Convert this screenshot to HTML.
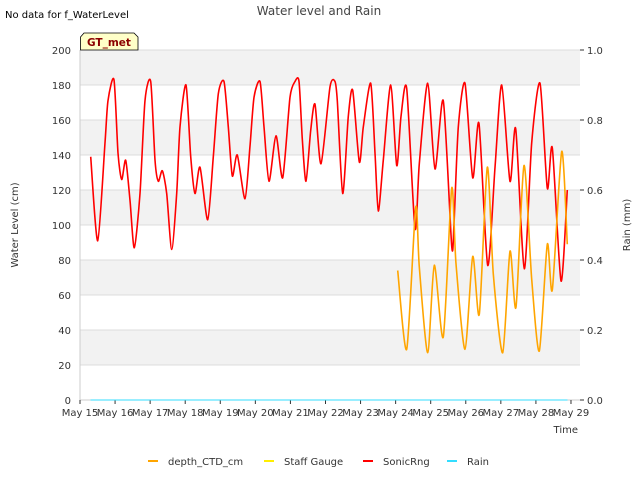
<!DOCTYPE html>
<html><head><meta charset="utf-8"><style>
body{margin:0;background:#fff;font-family:"Liberation Sans","DejaVu Sans",sans-serif;}
svg text{font-family:"DejaVu Sans","Liberation Sans",sans-serif;}
</style></head><body>
<svg id="chart" width="640" height="480" viewBox="0 0 640 480">
<text x="5" y="18" font-size="10" fill="#000">No data for f_WaterLevel</text>
<text x="319" y="15" font-size="12" fill="#444" text-anchor="middle">Water level and Rain</text>
<g id="plot"></g>
<g>
<path d="M80.5,50 L80.5,37 L84,33 L134,33 L138,37 L138,50 Z" fill="#ffffc8" stroke="#000" stroke-width="0.8"/>
<text x="87" y="46" font-size="10.5" font-weight="bold" fill="#8b0000">GT_met</text>
</g>
<text transform="translate(18,225) rotate(-90)" font-size="10" text-anchor="middle" fill="#333">Water Level (cm)</text>
<text transform="translate(630,225) rotate(-90)" font-size="10" text-anchor="middle" fill="#333">Rain (mm)</text>
<text x="578" y="433" font-size="10" text-anchor="end" fill="#333">Time</text>
<g id="legend"></g>
</svg>
<script>
const redDays=[0.305,0.505,0.713,0.798,0.969,1.084,1.189,1.303,1.426,1.548,1.711,1.853,2.016,2.139,2.233,2.347,2.472,2.615,2.757,2.851,3.023,3.157,3.279,3.422,3.641,3.801,3.944,4.106,4.229,4.343,4.485,4.705,4.847,4.962,5.133,5.247,5.389,5.589,5.780,5.988,6.131,6.245,6.339,6.444,6.578,6.701,6.872,7.129,7.271,7.337,7.491,7.650,7.776,7.964,8.078,8.289,8.412,8.506,8.648,8.860,9.031,9.153,9.316,9.552,9.675,9.914,10.123,10.359,10.599,10.665,10.787,10.978,11.198,11.377,11.625,11.834,12.025,12.261,12.424,12.669,12.880,13.117,13.325,13.468,13.716,13.895];
const redVals=[139,91,147,171,183,141,126,137,114,87,118,171,182,137,125,131,118,86,118,156,180,139,118,133,103,139,175,182,156,128,140,115,145,173,182,156,125,151,127,173,182,182,149,125,154,169,135,179,182,171,118,162,177,136,156,181,141,108,137,180,134,162,178,98,135,181,132,171,88,101,156,181,127,158,77,133,180,125,155,75,147,181,121,144,68,120];
const orDays=[9.059,9.316,9.572,9.675,9.914,10.103,10.359,10.599,10.721,10.978,11.198,11.386,11.614,11.785,12.053,12.261,12.432,12.660,12.880,13.097,13.325,13.468,13.736,13.895];
const orVals=[74,29,110,76,27,77,36,121,78,29,82,49,133,72,27,85,53,134,69,28,89,63,142,89];
const yTicks=[0,20,40,60,80,100,120,140,160,180,200];
const y2Ticks=[0.0,0.2,0.4,0.6,0.8,1.0];
const xTickLabels=["May 15","May 16","May 17","May 18","May 19","May 20","May 21","May 22","May 23","May 24","May 25","May 26","May 27","May 28","May 29"];
const legendNames=["depth_CTD_cm","Staff Gauge","SonicRng","Rain"];
const legendColors=["#ffa500","#ffee00","#ff0000","#33ddff"];

const NS="http://www.w3.org/2000/svg";
const X0=80,X1=580,Y0=400,Y1=50,DAYW=35.07;
const xs=d=>X0+d*DAYW, ys=v=>Y0-(v/200)*(Y0-Y1), ys2=v=>Y0-v*(Y0-Y1);
const plot=document.getElementById('plot');
function mk(tag,attrs,parent){const e=document.createElementNS(NS,tag);for(const k in attrs)e.setAttribute(k,attrs[k]);parent.appendChild(e);return e;}
mk('rect',{x:X0,y:Y1,width:X1-X0,height:Y0-Y1,fill:'#fff'},plot);
for(let i=0;i<yTicks.length-1;i++){ if(i%2===1){const r=mk('rect',{x:X0,y:ys(yTicks[i+1]),width:X1-X0,height:ys(yTicks[i])-ys(yTicks[i+1]),fill:'#f2f2f2'},plot);

}}
yTicks.forEach(t=>{const y=ys(t);
const l=mk('line',{x1:X0,x2:X1,y1:y,y2:y,stroke:'#dcdcdc','stroke-width':1},plot);


const tx=mk('text',{x:X0-9,y:y+4,'font-size':10,'text-anchor':'end',fill:'#333'},plot);tx.textContent=t;

});
y2Ticks.forEach(t=>{const y=ys2(t);
mk('line',{x1:X1,x2:X1+4,y1:y,y2:y,stroke:'#333'},plot);
const tx=mk('text',{x:X1+7,y:y+4,'font-size':10,fill:'#333'},plot);tx.textContent=t.toFixed(1);

});
mk('line',{x1:X0,x2:X0,y1:Y1,y2:Y0,stroke:'#ccc'},plot);
mk('line',{x1:X0,x2:X1,y1:Y0,y2:Y0,stroke:'#ccc'},plot);
xTickLabels.forEach((t,i)=>{const x=xs(i);
mk('line',{x1:x,x2:x,y1:Y0,y2:Y0+4,stroke:'#333'},plot);
const tx=mk('text',{x:x,y:Y0+16,'font-size':10,'text-anchor':'middle',fill:'#333'},plot);tx.textContent=t;

});
function smooth(days,vals){const p=days.map((d,i)=>[xs(d),ys(vals[i])]);let s=`M${p[0][0]},${p[0][1]}`;
for(let i=0;i<p.length-1;i++){const a=p[Math.max(0,i-1)],b=p[i],c=p[i+1],d=p[Math.min(p.length-1,i+2)];
s+=` C${b[0]+(c[0]-a[0])/8},${b[1]+(c[1]-a[1])/8} ${c[0]-(d[0]-b[0])/8},${c[1]-(d[1]-b[1])/8} ${c[0]},${c[1]}`;}return s;}
const rain=mk('line',{x1:xs(0.3),x2:xs(13.9),y1:ys2(0),y2:ys2(0),stroke:'#33ddff','stroke-width':1},plot);


const red=mk('path',{d:smooth(redDays,redVals),fill:'none',stroke:'#ff0000','stroke-width':1.6},plot);


const org=mk('path',{d:smooth(orDays,orVals),fill:'none',stroke:'#ffa500','stroke-width':1.6},plot);


const lg=document.getElementById('legend');
const lx=[148,264,363,447];
legendNames.forEach((n,i)=>{const g=mk('g',{},lg);


mk('line',{x1:lx[i],x2:lx[i]+10,y1:461,y2:461,stroke:legendColors[i],'stroke-width':2},g);
const t=mk('text',{x:lx[i]+20,y:465,'font-size':10,fill:'#333'},g);t.textContent=n;});
</script>
</body></html>
